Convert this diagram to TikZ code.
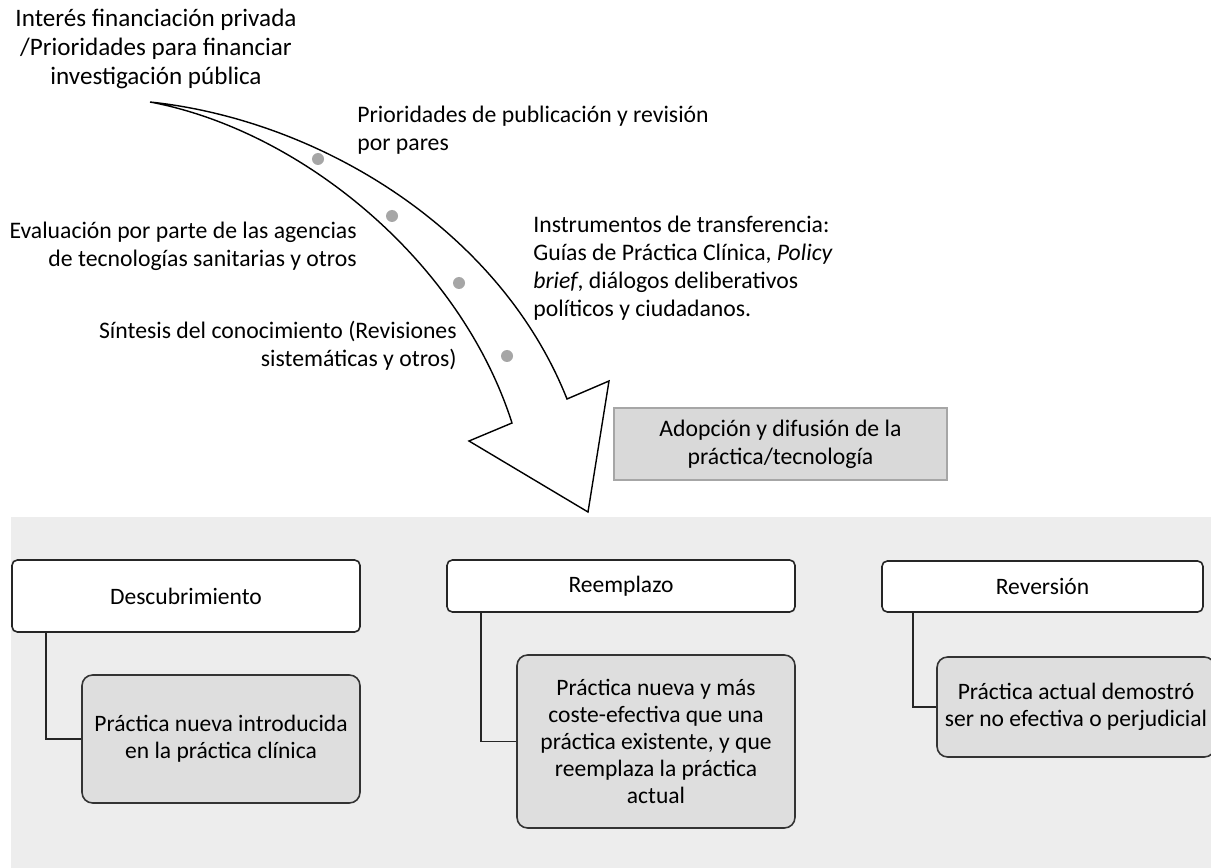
\documentclass[tikz,border=0pt]{standalone}
\usepackage{fontspec}
\setmainfont{Carlito}
\usetikzlibrary{positioning}
\definecolor{panelgray}{HTML}{EDEDED}
\definecolor{boxgray}{HTML}{DEDEDE}
\definecolor{adoptgray}{HTML}{D9D9D9}
\definecolor{dotgray}{HTML}{A6A6A6}
\tikzset{
  txt/.style={inner sep=0pt, font=\fontsize{13.5}{16}\selectfont},
  phase/.style={draw=black!85, line width=0.9pt, fill=white,
    rounded corners=3pt, inner sep=0pt, font=\fontsize{13.4}{16}\selectfont},
  detail/.style={draw=black!80, line width=0.9pt, fill=boxgray,
    rounded corners=6pt, inner sep=0pt, align=center,
    font=\fontsize{13.4}{15.3}\selectfont},
  link/.style={draw=black!85, line width=0.9pt},
  bigarrow/.style={draw=black, line width=0.8pt, fill=white, line join=miter}
}
\begin{document}
\begin{tikzpicture}[x=0.02cm, y=-0.02cm]
  \useasboundingbox (0,0) rectangle (1211,868);
  \clip (0,0) rectangle (1211,868);

  % panel behind the three phases
  \fill[panelgray] (11,517) rectangle (1215,872);

  % curved arrow
  \draw[bigarrow] (150,102) .. controls (320,120) and (500,230) .. (567,399)
    -- (609,381) -- (588,512) -- (469,441) -- (512,423)
    .. controls (460,260) and (300,130) .. (150,102) -- cycle;
  \foreach \p in {(318,159),(392,216),(459,283),(507,356)}
    \fill[dotgray] \p circle [radius=6];

  % labels along the arrow
  \node[txt, align=center, font=\fontsize{14.3}{16.4}\selectfont] (fund) at (156,49)
    {Interés financiación privada\\/Prioridades para financiar\\investigación pública};
  \node[txt, align=left, anchor=west] (peer) at (357,130)
    {Prioridades de publicación y revisión\\por pares};
  \node[txt, align=right, anchor=east] (hta) at (357,246)
    {Evaluación por parte de las agencias\\de tecnologías sanitarias y otros};
  \node[txt, align=left, anchor=west] (transfer) at (533,268)
    {Instrumentos de transferencia:\\Guías de Práctica Clínica, \textit{Policy}\\\textit{brief}, diálogos deliberativos\\políticos y ciudadanos.};
  \node[txt, align=right, anchor=east] (synth) at (457,346)
    {Síntesis del conocimiento (Revisiones\\sistemáticas y otros)};
  \node[txt, draw=black!35, line width=0.8pt, fill=adoptgray, align=center,
    minimum width=6.66cm, minimum height=1.44cm] (adopt) at (780.5,444)
    {Adopción y difusión de la\\práctica/tecnología};

  % phases
  \node[phase, minimum width=6.96cm, minimum height=1.44cm] (disc) at (186,596) {Descubrimiento};
  \node[phase, minimum width=6.96cm, minimum height=1.04cm] (repl) at (621,586) {Reemplazo};
  \node[phase, minimum width=6.42cm, minimum height=1.02cm] (rev) at (1042.5,586.5) {Reversión};

  \node[detail, minimum width=5.56cm, minimum height=2.56cm] (discd) at (221,739)
    {Práctica nueva introducida\\en la práctica clínica};
  \node[detail, minimum width=5.56cm, minimum height=3.46cm] (repld) at (656,741.5)
    {Práctica nueva y más\\coste-efectiva que una\\práctica existente, y que\\reemplaza la práctica\\actual};
  \node[detail, minimum width=5.56cm, minimum height=2cm] (revd) at (1076,707)
    {Práctica actual demostró\\ser no efectiva o perjudicial};

  \draw[link] ([xshift=0.7cm]disc.south west) |- (discd.west);
  \draw[link] ([xshift=0.7cm]repl.south west) |- (repld.west);
  \draw[link] ([xshift=0.64cm]rev.south west) |- (revd.west);
\end{tikzpicture}
\end{document}
